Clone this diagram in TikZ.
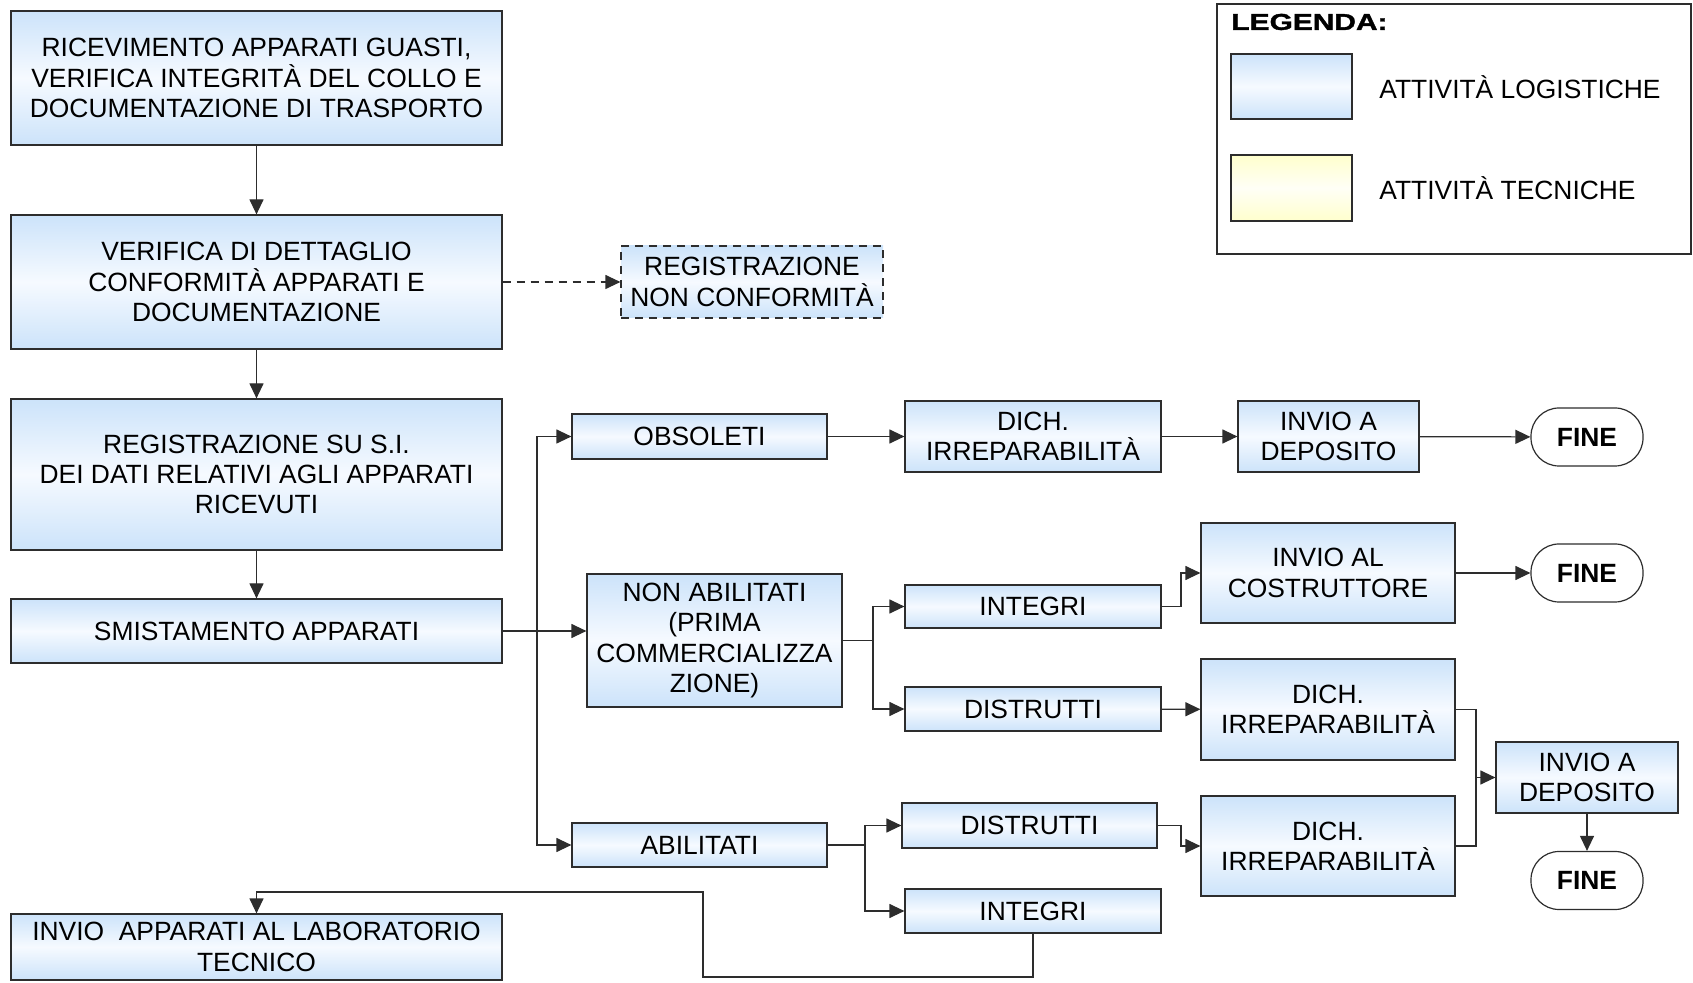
\documentclass[tikz,border=0pt]{standalone}
\usepackage{fontspec}
\setmainfont{Liberation Sans}
\newfontfamily\legfont[FakeStretch=1.3,FakeBold=1.5]{Liberation Sans}
\usetikzlibrary{arrows.meta}

\definecolor{logtop}{RGB}{204,227,250}
\definecolor{logmid}{RGB}{246,250,255}
\definecolor{tectop}{RGB}{255,255,205}
\definecolor{tecmid}{RGB}{255,255,246}
\definecolor{edge}{RGB}{45,45,45}

\tikzset{
  boxfont/.style={font=\fontsize{13.2}{15.1}\selectfont},
  logbox/.style={draw=edge,line width=0.6pt,top color=logtop,bottom color=logtop,middle color=logmid,align=center,inner sep=0pt,boxfont},
  tecbox/.style={draw=edge,line width=0.6pt,top color=tectop,bottom color=tectop,middle color=tecmid,inner sep=0pt},
  endbox/.style={draw=edge,line width=0.6pt,fill=white,rounded corners=14pt,minimum width=56pt,minimum height=29pt,inner sep=0pt,font=\fontsize{13.2}{15.1}\selectfont\bfseries},
  wire/.style={draw=edge,line width=0.6pt},
  conn/.style={wire,-{Triangle[length=7.5pt,width=7pt]}},
  dashline/.style={dash pattern=on 4pt off 3pt},
}

\begin{document}
\begin{tikzpicture}[x=0.5pt,y=-0.5pt]
\path[use as bounding box] (0,0) rectangle (1693,983);

% colonna di sinistra
\node[logbox,minimum width=245.5pt,minimum height=67pt] (ricev) at (256.5,78) {RICEVIMENTO APPARATI GUASTI,\\VERIFICA INTEGRITÀ DEL COLLO E\\DOCUMENTAZIONE DI TRASPORTO};
\node[logbox,minimum width=245.5pt,minimum height=67pt] (verif) at (256.5,282) {VERIFICA DI DETTAGLIO\\CONFORMITÀ APPARATI E\\DOCUMENTAZIONE};
\node[logbox,minimum width=245.5pt,minimum height=75.5pt] (regsi) at (256.5,474.5) {REGISTRAZIONE SU S.I.\\DEI DATI RELATIVI AGLI APPARATI\\RICEVUTI};
\node[logbox,minimum width=245.5pt,minimum height=32pt] (smist) at (256.5,631) {SMISTAMENTO APPARATI};
\node[logbox,minimum width=245.5pt,minimum height=33pt] (invlab) at (256.5,947) {INVIO\ \ APPARATI AL LABORATORIO\\TECNICO};
\node[logbox,dashline,minimum width=131pt,minimum height=36pt] (regnc) at (752,282) {REGISTRAZIONE\\NON CONFORMITÀ};

% smistamento
\node[logbox,minimum width=127.5pt,minimum height=22.5pt] (obsol) at (699.5,436.5) {OBSOLETI};
\node[logbox,minimum width=127.5pt,minimum height=66.5pt] (nonab) at (714.5,640.5) {NON ABILITATI\\(PRIMA\\COMMERCIALIZZA\\ZIONE)};
\node[logbox,minimum width=127.5pt,minimum height=22pt] (abil) at (699.5,845) {ABILITATI};

\node[logbox,minimum width=128pt,minimum height=35.5pt] (dich1) at (1033,436.5) {DICH.\\IRREPARABILITÀ};
\node[logbox,minimum width=90.5pt,minimum height=35.5pt] (depo1) at (1328.5,436.5) {INVIO A\\DEPOSITO};
\node[endbox] (fine1) at (1587,437) {FINE};

\node[logbox,minimum width=128pt,minimum height=21.5pt] (integ1) at (1033,606.5) {INTEGRI};
\node[logbox,minimum width=128pt,minimum height=22pt] (distr1) at (1033,709) {DISTRUTTI};
\node[logbox,minimum width=127pt,minimum height=50pt] (costr) at (1328,573) {INVIO AL\\COSTRUTTORE};
\node[endbox] (fine2) at (1587,573) {FINE};
\node[logbox,minimum width=127pt,minimum height=50.5pt] (dich2) at (1328,709.5) {DICH.\\IRREPARABILITÀ};

\node[logbox,minimum width=127.5pt,minimum height=22.5pt] (distr2) at (1029.5,825.5) {DISTRUTTI};
\node[logbox,minimum width=128pt,minimum height=22pt] (integ2) at (1033,911) {INTEGRI};
\node[logbox,minimum width=127pt,minimum height=50pt] (dich3) at (1328,846) {DICH.\\IRREPARABILITÀ};
\node[logbox,minimum width=91pt,minimum height=35.5pt] (depo2) at (1587,777.5) {INVIO A\\DEPOSITO};
\node[endbox] (fine3) at (1587,880.5) {FINE};

% legenda
\node[draw=edge,line width=0.6pt,minimum width=237pt,minimum height=125pt,inner sep=0pt] (legbox) at (1454,129) {};
\node[anchor=west,inner sep=0pt,font=\fontsize{11.5}{13}\legfont\bfseries] (legtit) at (1231,22) {LEGENDA:};
\node[logbox,minimum width=60.5pt,minimum height=32.5pt] (swlog) at (1291.5,86.5) {};
\node[tecbox,minimum width=60.5pt,minimum height=33pt] (swtec) at (1291.5,188) {};
\node[anchor=west,inner sep=0pt,boxfont] (leglog) at (1379,87) {ATTIVITÀ LOGISTICHE};
\node[anchor=west,inner sep=0pt,boxfont] (legtec) at (1379,188) {ATTIVITÀ TECNICHE};

% collegamenti
\draw[conn] (ricev) -- (verif);
\draw[conn,dashline] (verif) -- (regnc);
\draw[conn] (verif) -- (regsi);
\draw[conn] (regsi) -- (smist);

\coordinate (sp1) at (537,631);
\draw[conn] (smist.east) -- (smist.east -| nonab.west);
\draw[conn] (smist.east) -- (sp1) |- (obsol.west);
\draw[conn] (sp1) |- (abil.west);

\draw[conn] (obsol) -- (dich1);
\draw[conn] (dich1) -- (depo1);
\draw[conn] (depo1) -- (fine1);

\coordinate (sp2) at (873,640.5);
\draw[conn] (nonab.east) -- (sp2) |- (integ1.west);
\draw[conn] (sp2) |- (distr1.west);
\coordinate (sp3) at (1181,606.5);
\draw[conn] (integ1.east) -- (sp3) |- (costr.west);
\draw[conn] (costr) -- (fine2);
\draw[conn] (distr1) -- (dich2);

\coordinate (sp4) at (1476,709.5);
\draw[wire] (dich2.east) -- (sp4) |- (dich3.east);
\draw[conn] (sp4 |- depo2.west) -- (depo2.west);
\draw[conn] (depo2) -- (fine3);

\coordinate (sp5) at (865,845);
\draw[conn] (abil.east) -- (sp5) |- (distr2.west);
\draw[conn] (sp5) |- (integ2.west);
\coordinate (sp6) at (1181,825.5);
\draw[conn] (distr2.east) -- (sp6) |- (dich3.west);

\draw[conn] (integ2.south) -- (1033,977) -- (703,977) -- (703,892) -| (invlab.north);
\end{tikzpicture}
\end{document}
